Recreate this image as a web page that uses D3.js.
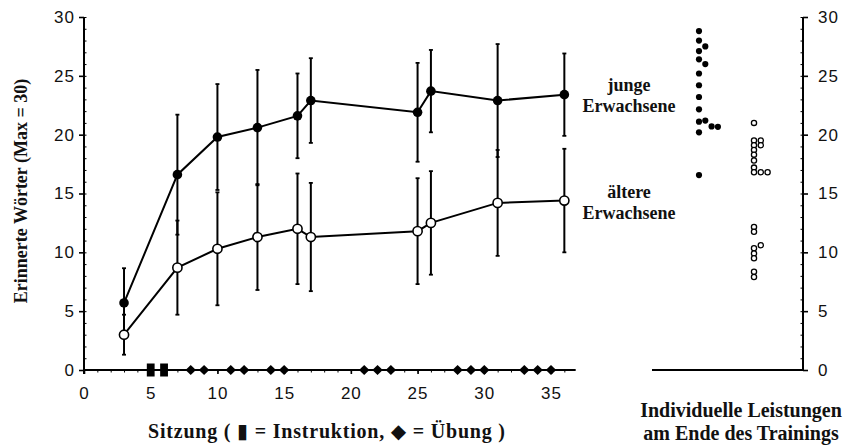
<!DOCTYPE html>
<html><head><meta charset="utf-8">
<script src="https://cdn.jsdelivr.net/npm/d3@7"></script>
<style>body{margin:0;background:#fff} svg{display:block}</style>
</head><body><svg id="c" width="848" height="447"></svg>
<script>
// ---------- data ----------
const sessions   = [3, 7, 10, 13, 16, 17, 25, 26, 31, 36];
const youngMean  = [5.7, 16.6, 19.8, 20.6, 21.6, 22.9, 21.9, 23.7, 22.9, 23.4];
const youngSD    = [2.95, 5.1, 4.5, 4.9, 3.6, 3.6, 4.2, 3.5, 4.8, 3.5];
const olderMean  = [3.0, 8.7, 10.3, 11.3, 12.0, 11.3, 11.8, 12.5, 14.2, 14.4];
const olderSD    = [1.7, 4.0, 4.8, 4.5, 4.7, 4.6, 4.5, 4.4, 4.5, 4.4];
const instructionSessions = [5, 6];
const practiceSessions    = [8, 9, 11, 12, 14, 15, 21, 22, 23, 28, 29, 30, 33, 34, 35];
const xTicks = [0, 5, 10, 15, 20, 25, 30, 35];
const yTicks = [0, 5, 10, 15, 20, 25, 30];
const groups = ["junge", "ältere"];
const youngFinal = [28.8, 28.0, 27.5, 27.1, 26.4, 26.0, 25.2, 24.2, 23.2, 22.15, 21.1, 21.2, 20.7, 20.67, 20.2, 16.57];
const olderFinal = [21.0, 19.5, 19.5, 19.1, 19.1, 18.7, 18.3, 17.8, 17.2, 16.8, 16.8, 16.8, 12.15, 11.75, 10.35, 10.6, 9.9, 9.5, 8.35, 7.9];
const xTitle = "Sitzung ( \u25AE = Instruktion, \u25C6 = \u00DCbung )";
const yTitle = "Erinnerte W\u00F6rter (Max = 30)";
const youngLabel = ["junge", "Erwachsene"];
const olderLabel = ["\u00E4ltere", "Erwachsene"];
const panelTitle = ["Individuelle Leistungen", "am Ende des Trainings"];

// ---------- scales ----------
const svg = d3.select("#c");
const x = d3.scaleLinear().domain([0, 35]).range([84, 551]);
const y = d3.scaleLinear().domain([0, 30]).range([370, 17]);
const gx = d3.scalePoint().domain(groups).range([699, 754]);
const rightAxisX = 803;

const serif = "'Liberation Serif', 'DejaVu Serif', serif";
const sans = "'Liberation Sans', Arial, sans-serif";

// ---------- left axis ----------
const gL = svg.append("g").attr("transform", `translate(${x(0)},0)`);
gL.call(d3.axisLeft(y).tickValues(yTicks).tickSize(5).tickPadding(4));
gL.select(".domain").remove();
gL.append("line").attr("x1", 0).attr("x2", 0).attr("y1", y(30)).attr("y2", y(0) + 4)
  .attr("stroke", "#000").attr("stroke-width", 2);
gL.selectAll(".tick line").attr("stroke-width", 1.6);
gL.selectAll(".tick text").attr("font-family", sans).attr("font-size", 17).attr("letter-spacing", 1).attr("fill", "#111");
const gLm = svg.append("g").attr("transform", `translate(${x(0)},0)`);
gLm.call(d3.axisRight(y).tickValues(d3.range(0, 31)).tickSize(2.5).tickFormat(""));
gLm.select(".domain").remove();

// ---------- bottom axis ----------
const gB = svg.append("g").attr("transform", `translate(0,${y(0)})`);
gB.call(d3.axisBottom(x).tickValues(xTicks).tickSize(4).tickPadding(13));
gB.select(".domain").remove();
gB.append("line").attr("x1", x(0)).attr("x2", x(36.85)).attr("y1", 0).attr("y2", 0)
  .attr("stroke", "#000").attr("stroke-width", 2);
gB.selectAll(".tick line").attr("stroke-width", 1.6);
gB.selectAll(".tick text").attr("font-family", sans).attr("font-size", 17).attr("letter-spacing", 1).attr("fill", "#111");
const gBm = svg.append("g").attr("transform", `translate(0,${y(0)})`);
gBm.call(d3.axisBottom(x).tickValues(d3.range(1, 37)).tickSize(2.5).tickFormat(""));
gBm.select(".domain").remove();

// session markers on x axis
svg.append("g").selectAll("rect").data(instructionSessions).join("rect")
  .attr("x", d => x(d) - 3.9).attr("y", y(0) - 6.5).attr("width", 7.8).attr("height", 13).attr("fill", "#000");
svg.append("g").selectAll("path").data(practiceSessions).join("path")
  .attr("transform", d => `translate(${x(d)},${y(0)})`)
  .attr("d", "M0,-5L5.2,0L0,5L-5.2,0Z").attr("fill", "#000");

// ---------- series ----------
function drawSeries(means, sds) {
  const pts = sessions.map((s, i) => ({ s, m: means[i], sd: sds[i] }));
  const eb = svg.append("g").selectAll("g").data(pts).join("g");
  eb.append("line").attr("x1", d => x(d.s)).attr("x2", d => x(d.s))
    .attr("y1", d => y(d.m - d.sd)).attr("y2", d => y(d.m + d.sd))
    .attr("stroke", "#000").attr("stroke-width", 2);
  [1, -1].forEach(sign => {
    eb.append("line").attr("x1", d => x(d.s) - 2).attr("x2", d => x(d.s) + 2)
      .attr("y1", d => y(d.m + sign * d.sd)).attr("y2", d => y(d.m + sign * d.sd))
      .attr("stroke", "#000").attr("stroke-width", 1.8);
  });
  return pts;
}
const yPts = drawSeries(youngMean, youngSD);
const oPts = drawSeries(olderMean, olderSD);
const line = d3.line().x(d => x(d.s)).y(d => y(d.m));
[yPts, oPts].forEach(P => {
  svg.append("path").datum(P).attr("d", line).attr("fill", "none").attr("stroke", "#000").attr("stroke-width", 2);
});
svg.append("g").selectAll("circle").data(oPts).join("circle")
  .attr("cx", d => x(d.s)).attr("cy", d => y(d.m)).attr("r", 4.6)
  .attr("fill", "#fff").attr("stroke", "#000").attr("stroke-width", 1.6);
svg.append("g").selectAll("circle").data(yPts).join("circle")
  .attr("cx", d => x(d.s)).attr("cy", d => y(d.m)).attr("r", 4.8).attr("fill", "#000");

// two-line texts
function multiText(lines, cx, y0, dy, size) {
  lines.forEach((s, i) => svg.append("text").attr("text-anchor", "middle").attr("font-family", serif)
    .attr("font-weight", "bold").attr("font-size", size).attr("fill", "#111")
    .attr("x", cx).attr("y", y0 + i * dy).text(s));
}
multiText(youngLabel, 629, 91, 21, 18);
multiText(olderLabel, 629, 198, 21, 18);
multiText(panelTitle, 741, 417, 22.5, 20);

// ---------- right panel: individual dot plot ----------
function swarm(values, collide, step) {
  const cols = [];
  return values.map(v => {
    const py = y(v);
    let k = 0;
    while (cols[k] && cols[k].some(q => Math.abs(q - py) < collide)) k++;
    (cols[k] = cols[k] || []).push(py);
    return { v, k, step };
  });
}
const yd = swarm(youngFinal, 7, 6.3);
const od = swarm(olderFinal, 4.5, 6.8);
svg.append("g").selectAll("circle").data(yd).join("circle")
  .attr("cx", d => gx("junge") + d.k * d.step).attr("cy", d => y(d.v)).attr("r", 3.1).attr("fill", "#000");
svg.append("g").selectAll("circle").data(od).join("circle")
  .attr("cx", d => gx("ältere") + d.k * d.step).attr("cy", d => y(d.v)).attr("r", 2.6)
  .attr("fill", "#fff").attr("stroke", "#000").attr("stroke-width", 1.3);

// right axis
const gR = svg.append("g").attr("transform", `translate(${rightAxisX},0)`);
gR.call(d3.axisRight(y).tickValues(yTicks).tickSize(5).tickPadding(10));
gR.select(".domain").remove();
gR.append("line").attr("x1", 0).attr("x2", 0).attr("y1", y(30)).attr("y2", y(0))
  .attr("stroke", "#000").attr("stroke-width", 2);
gR.selectAll(".tick line").attr("stroke-width", 1.6);
gR.selectAll(".tick text").attr("font-family", sans).attr("font-size", 17).attr("letter-spacing", 1).attr("fill", "#111");
const gRm = svg.append("g").attr("transform", `translate(${rightAxisX},0)`);
gRm.call(d3.axisLeft(y).tickValues(d3.range(0, 31)).tickSize(2.5).tickFormat(""));
gRm.select(".domain").remove();
svg.append("line").attr("x1", 652).attr("x2", rightAxisX).attr("y1", y(0)).attr("y2", y(0))
  .attr("stroke", "#000").attr("stroke-width", 2.2);

// ---------- titles ----------
svg.append("text").attr("x", 148).attr("y", 438).attr("font-family", serif).attr("font-weight", "bold")
  .attr("font-size", 20).attr("fill", "#111").attr("textLength", 357).attr("lengthAdjust", "spacing").text(xTitle);
svg.append("text").attr("transform", "translate(27,191) rotate(-90)").attr("text-anchor", "middle")
  .attr("font-family", serif).attr("font-weight", "bold").attr("font-size", 18).attr("fill", "#111")
  .text(yTitle);
</script></body></html>
